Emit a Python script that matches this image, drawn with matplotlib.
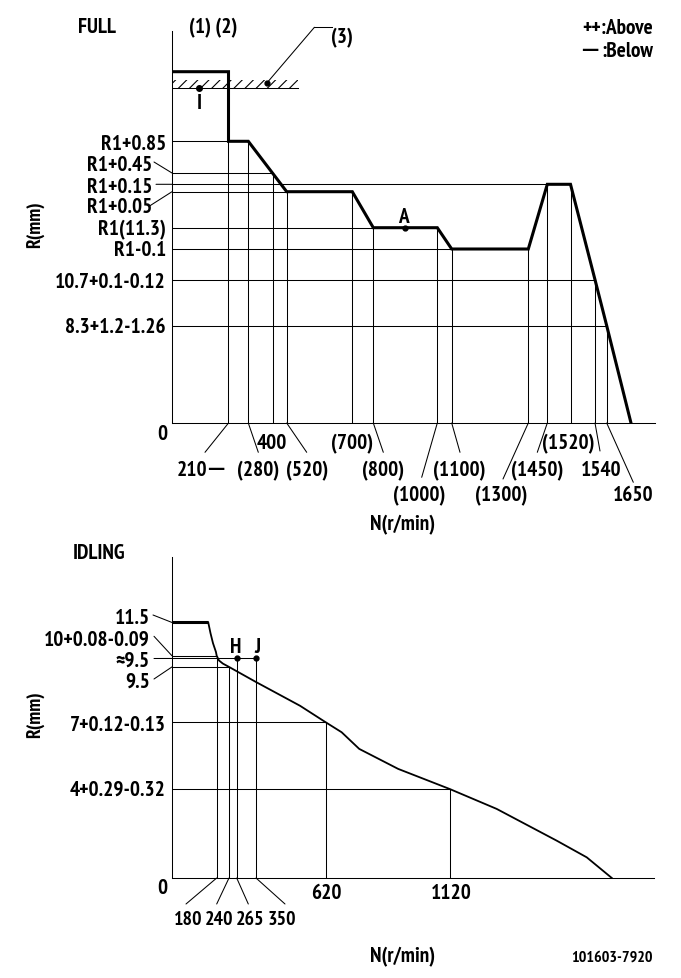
import numpy as np
import matplotlib
matplotlib.use("Agg")
import matplotlib.pyplot as plt
from matplotlib.lines import Line2D

plt.rcParams['font.family'] = ['PT Sans Narrow', 'DejaVu Sans']
plt.rcParams['font.weight'] = 'bold'
plt.rcParams['hatch.linewidth'] = 0.8

W, H, DPI = 681, 979, 100
THIN, THICK = 0.75, 2.2
FS = 15.3

# ---------------- FULL chart data ----------------
full_speed = [0, 210, 210, 280, 520, 700, 800, 1000, 1100, 1300, 1450, 1520, 1540, 1650, 1740]
full_rack = [12.6, 12.6, 12.15, 12.15, 11.35, 11.35, 11.3, 11.3, 11.2, 11.2, 11.45, 11.45, 10.7, 8.3, 0]

full_levels = [12.15, 11.75, 11.45, 11.35, 11.3, 11.2, 10.7, 8.3]
full_level_labels = ["R1+0.85", "R1+0.45", "R1+0.15", "R1+0.05", "R1(11.3)", "R1-0.1",
                     "10.7+0.1-0.12", "8.3+1.2-1.26"]
full_level_ends = [210, 400, 1450, 520, 800, 1100, 1540, 1650]

full_marks = [210, 280, 400, 520, 700, 800, 1000, 1100, 1300, 1450, 1520, 1540, 1650]
full_mark_tops = [12.15, 12.15, 11.75, 11.35, 11.35, 11.3, 11.3, 11.2, 11.2, 11.45, 11.45, 10.7, 8.3]
full_mark_labels = ["210", "(280)", "400", "(520)", "(700)", "(800)", "(1000)", "(1100)",
                    "(1300)", "(1450)", "(1520)", "1540", "1650"]

full_limit = 12.5
full_limit_band = 12.55
full_limit_end = 550
point_I = (100, 12.5)
point_3 = (370, 12.53)
point_A = (900, 11.3)

# ---------------- IDLING chart data ----------------
idle_plateau_speed = [0, 146]
idle_plateau_rack = [11.5, 11.5]
idle_speed = [146, 155, 165, 177, 180, 191, 210, 240, 350, 520, 620, 683, 754, 911, 1120,
              1308, 1550, 1671, 1772]
idle_rack = [11.5, 11.02, 10.57, 10.17, 10.0, 9.79, 9.65, 9.5, 8.82, 7.75, 7.0, 6.56, 5.81,
             4.91, 4.0, 3.11, 1.68, 0.93, 0]

idle_levels = [11.5, 10.0, 9.88, 9.5, 7.0, 4.0]
idle_level_labels = ["11.5", "10+0.08-0.09", "≈9.5", "9.5", "7+0.12-0.13", "4+0.29-0.32"]
idle_level_ends = [0, 180, 350, 240, 620, 1120]

idle_marks = [180, 240, 265, 350, 620, 1120]
idle_mark_tops = [10.0, 9.5, 9.88, 9.88, 7.0, 4.0]
idle_mark_labels = ["180", "240", "265", "350", "620", "1120"]
point_H = (265, 9.88)
point_J = (350, 9.88)

# ---------------- layout (image pixels) ----------------
full_x_anchor_speed = [0, 210, 280, 400, 520, 700, 800, 1000, 1100, 1300, 1450, 1520, 1540, 1650, 1740, 1830]
full_x_anchor_px = [172, 228.5, 248.3, 272.7, 286.7, 352.3, 373.3, 437.3, 451.7, 528.3, 547.3, 570.5,
                    595, 606.7, 631, 655]
full_y_anchor_val = [0, 8.3, 10.7, 11.2, 11.3, 11.35, 11.45, 11.75, 12.15, 12.5, 12.6, 12.85]
full_y_anchor_px = [424, 326.7, 280.7, 250, 228.7, 192.7, 185.3, 174, 142.3, 89.3, 72.7, 32]

idle_x_anchor_speed = [0, 180, 240, 265, 350, 620, 1120, 1940]
idle_x_anchor_px = [172, 216.7, 229, 236.7, 256, 326, 450, 653.5]
IDLE_PX_PER_MM = 22.22

fig = plt.figure(figsize=(W / DPI, H / DPI), dpi=DPI)
fig.patch.set_facecolor('white')


def px_rect(l, t, r, b):
    return [l / W, 1 - b / H, (r - l) / W, (b - t) / H]


def interp_ext(v, xs, ys):
    v = np.asarray(v, dtype=float)
    out = np.interp(v, xs, ys)
    lo_slope = (ys[1] - ys[0]) / (xs[1] - xs[0])
    hi_slope = (ys[-1] - ys[-2]) / (xs[-1] - xs[-2])
    out = np.where(v < xs[0], ys[0] + (v - xs[0]) * lo_slope, out)
    out = np.where(v > xs[-1], ys[-1] + (v - xs[-1]) * hi_slope, out)
    return out


def piecewise(vals, pos):
    vals = np.asarray(vals, float)
    pos = np.asarray(pos, float)
    return (lambda v: interp_ext(v, vals, pos), lambda p: interp_ext(p, pos, vals))


def ftext(x, y, s, ha='center', size=FS, **kw):
    # y = visual centre of the characters (image pixels, from top)
    half_cap = 0.70 * size * DPI / 72 / 2
    fig.text(x / W, 1 - (y + half_cap) / H, s, ha=ha, va='baseline', size=size, **kw)


def seg_px(points, lw=THIN):
    xs = [p[0] / W for p in points]
    ys = [1 - p[1] / H for p in points]
    fig.add_artist(Line2D(xs, ys, transform=fig.transFigure, lw=lw, color='k'))


def leader(ax, xy, p):
    ax.annotate('', xy=xy, xycoords='data', xytext=(p[0], H - p[1]), textcoords='figure pixels',
                arrowprops=dict(arrowstyle='-', lw=THIN, color='k', shrinkA=0, shrinkB=0),
                annotation_clip=False)


def style_axes(ax):
    for s in ['top', 'right']:
        ax.spines[s].set_visible(False)
    for s in ['left', 'bottom']:
        ax.spines[s].set_linewidth(THIN)
        ax.spines[s].set_color('k')
    ax.set_xticks([])
    ax.set_yticks([])
    ax.patch.set_alpha(0)


# =============== FULL chart ===============
ax1 = fig.add_axes(px_rect(172, 32, 655, 424))
ax1.set_xscale('function', functions=piecewise(full_x_anchor_speed, full_x_anchor_px))
ax1.set_yscale('function', functions=piecewise(full_y_anchor_val, [-p for p in full_y_anchor_px]))
ax1.set_xlim(0, 1830)
ax1.set_ylim(0, 12.85)
style_axes(ax1)

for lvl, end in zip(full_levels, full_level_ends):
    ax1.plot([0, end], [lvl, lvl], color='k', lw=THIN)
for sp, top in zip(full_marks, full_mark_tops):
    ax1.plot([sp, sp], [0, top], color='k', lw=THIN)

ax1.plot([0, full_limit_end], [full_limit, full_limit], color='k', lw=THIN)
ax1.fill_between([0, full_limit_end], full_limit, full_limit_band, facecolor='none',
                 edgecolor='k', hatch='///', lw=0)
ax1.plot(full_speed, full_rack, color='k', lw=THICK, solid_joinstyle='miter')
ax1.plot(*point_I, 'o', color='k', ms=4)
ax1.plot(*point_3, 'o', color='k', ms=3.5)
ax1.plot(*point_A, 'o', color='k', ms=3.5)

# leaders for level labels
leader(ax1, (0, 11.75), (154, 163))
leader(ax1, (0, 11.45), (156, 185.3))
leader(ax1, (0, 11.35), (150, 206.7))
leader(ax1, point_3, (314.4, 28.3))
seg_px([(314.4, 28.3), (331.7, 28.3)])

full_label_pos = [(166, 143), (152, 164), (152, 186), (152, 206), (166, 228), (166, 249),
                  (166, 281), (166, 326)]
for lab, (x, y) in zip(full_level_labels, full_label_pos):
    ftext(x, y, lab, ha='right')

full_mark_text_pos = [(192, 469), (258, 469), (272, 442), (307, 469), (352, 442), (383, 469),
                      (419, 494), (459, 469), (501, 494), (537, 469), (568, 442), (601, 469),
                      (633, 494)]
full_mark_leader_end = [(205, 453.3), (258.3, 453.3), None, (306.7, 453.3), None, (383.3, 453.3),
                        (421.7, 478.3), (460, 453.3), (503, 480), (537.3, 453.3), None,
                        (600, 452), (633.3, 483.3)]
for sp, lab, pos, le in zip(full_marks, full_mark_labels, full_mark_text_pos, full_mark_leader_end):
    ftext(pos[0], pos[1], lab)
    if le is not None:
        leader(ax1, (sp, 0), le)
# long dash after 210
ftext(207.5, 467.5, "—", ha='left', size=12.5, family='DejaVu Sans')

ftext(162, 433, "0")
ftext(97, 26, "FULL")
ftext(213, 26, "(1) (2)")
ftext(342, 36, "(3)")
ftext(199, 102, "I")
ftext(403, 216, "A")
ftext(653, 27, "++:Above", ha='right')
ftext(653, 49.5, ":Below", ha='right')
ftext(581, 48.5, "—", ha='left', size=12.5, family='DejaVu Sans')
fig.text(35 / W, 1 - 225 / H, "R(mm)", rotation=90, ha='center', va='center', size=14)
ftext(403, 523, "N(r/min)")

# =============== IDLING chart ===============
ax2 = fig.add_axes(px_rect(172, 558, 653.5, 879))
ax2.set_xscale('function', functions=piecewise(idle_x_anchor_speed, idle_x_anchor_px))
ax2.set_xlim(0, 1940)
ax2.set_ylim(0, (879 - 558) / IDLE_PX_PER_MM)
style_axes(ax2)

for lvl, end in zip(idle_levels, idle_level_ends):
    if end > 0:
        ax2.plot([0, end], [lvl, lvl], color='k', lw=THIN)
for sp, top in zip(idle_marks, idle_mark_tops):
    ax2.plot([sp, sp], [0, top], color='k', lw=THIN)

ax2.plot(idle_plateau_speed, idle_plateau_rack, color='k', lw=THICK, solid_capstyle='butt')
ax2.plot(idle_speed, idle_rack, color='k', lw=1.3)
ax2.plot(*point_H, 'o', color='k', ms=3.5)
ax2.plot(*point_J, 'o', color='k', ms=3.5)

leader(ax2, (0, 11.5), (153, 616))
leader(ax2, (0, 10.0), (154, 637.3))
leader(ax2, (0, 9.88), (154, 659.5))
leader(ax2, (0, 9.5), (154, 680))

idle_label_pos = [(150, 617), (150, 638), (150, 659), (150, 680), (166, 724), (166, 788)]
for lab, (x, y) in zip(idle_level_labels, idle_label_pos):
    ftext(x, y, lab, ha='right')

idle_mark_text_pos = [(188, 918), (219, 918), (250, 918), (282, 918), (326, 892), (451, 892)]
idle_mark_sizes = [14.3, 14.3, 14.3, 14.3, FS, FS]
idle_mark_leader_end = [(186, 905), (216.7, 905), (248.3, 905), (285, 905), None, None]
for sp, lab, pos, sz, le in zip(idle_marks, idle_mark_labels, idle_mark_text_pos, idle_mark_sizes,
                                idle_mark_leader_end):
    ftext(pos[0], pos[1], lab, size=sz)
    if le is not None:
        leader(ax2, (sp, 0), le)

ftext(162, 887, "0")
ftext(99, 552, "IDLING")
ftext(236, 646, "H")
ftext(257, 646, "J")
fig.text(35 / W, 1 - 715 / H, "R(mm)", rotation=90, ha='center', va='center', size=14)
ftext(403, 955, "N(r/min)")
ftext(653, 956, "101603-7920", ha='right', size=11.5)

fig.savefig("out.png", dpi=DPI, facecolor='white')
